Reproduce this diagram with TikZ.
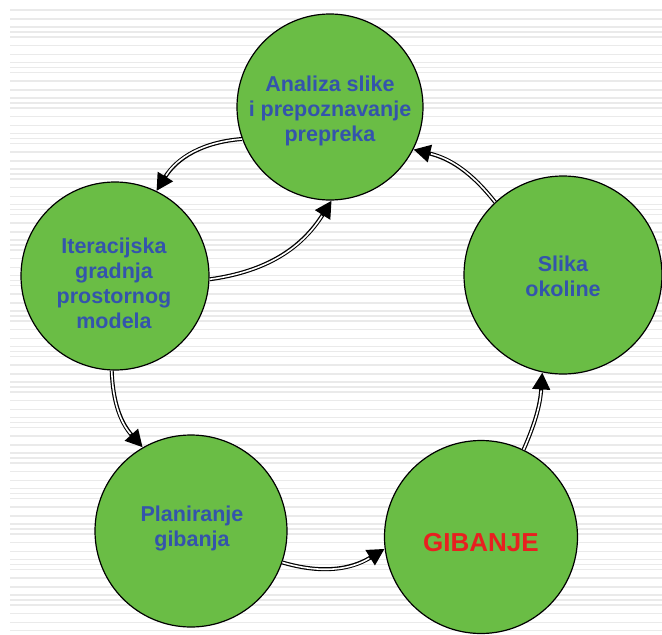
\documentclass[tikz,border=0pt]{standalone}
\usepackage{fontspec}
\setmainfont{Liberation Sans}
\usetikzlibrary{arrows.meta}
\definecolor{cfill}{RGB}{106,189,69}
\definecolor{ctext}{RGB}{52,84,172}
\definecolor{cred}{RGB}{232,32,32}
\definecolor{cstripe}{RGB}{234,234,234}
\begin{document}
\begin{tikzpicture}[x=1pt,y=1pt,
  bubble/.style={circle, draw=black, line width=1.2pt, fill=cfill, inner sep=0pt},
  lbl/.style={align=center, text=ctext, font=\bfseries\fontsize{21.5}{25}\selectfont},
  stripe/.style={draw=cstripe, line width=1.4pt},
  conn/.style={line width=4pt, draw=black, -{Triangle[length=17pt,width=17pt]},
    postaction={draw=white, line width=1.6pt, -, shorten >=18pt}}]
\useasboundingbox (0,0) rectangle (662,-635);
\fill[white] (0,0) rectangle (662,-635);
\foreach \k in {0,...,17}{
  \foreach \o in {0,9,17,22,27}{
    \pgfmathsetmacro\yy{10+35.5*\k+\o}
    \draw[stripe] (10,-\yy) -- (662,-\yy);
  }
}
\node[bubble, minimum size=186pt] (T) at (330,-107) {};
\node[bubble, minimum size=188pt] (L) at (115,-276) {};
\node[bubble, minimum size=198pt] (S) at (563,-275) {};
\node[bubble, minimum size=192pt] (P) at (191,-531) {};
\node[bubble, minimum size=193pt] (G) at (481,-537) {};
\node[lbl] (Tt) at (330,-111) {Analiza slike\\i prepoznavanje\\prepreka};
\node[lbl] (Lt) at (114,-283) {Iteracijska\\gradnja\\prostornog\\modela};
\node[lbl] (St) at (563,-276) {Slika\\okoline};
\node[lbl] (Pt) at (192,-528) {Planiranje\\gibanja};
\node[lbl, text=cred, font=\bfseries\fontsize{26}{30}\selectfont] (Gt) at (481,-543) {GIBANJE};
\draw[conn] (T.200) to[bend right=27] (L.64);
\draw[conn] (L.-2) to[bend right=25] (T.-89);
\draw[conn] (L.268) to[bend right=20] (P.120);
\draw[conn] (P.-19) to[bend right=24] (G.187);
\draw[conn] (G.64) to[bend right=10] (S.258);
\draw[conn] (S.133) to[bend right=19] (T.-27);
\end{tikzpicture}
\end{document}
